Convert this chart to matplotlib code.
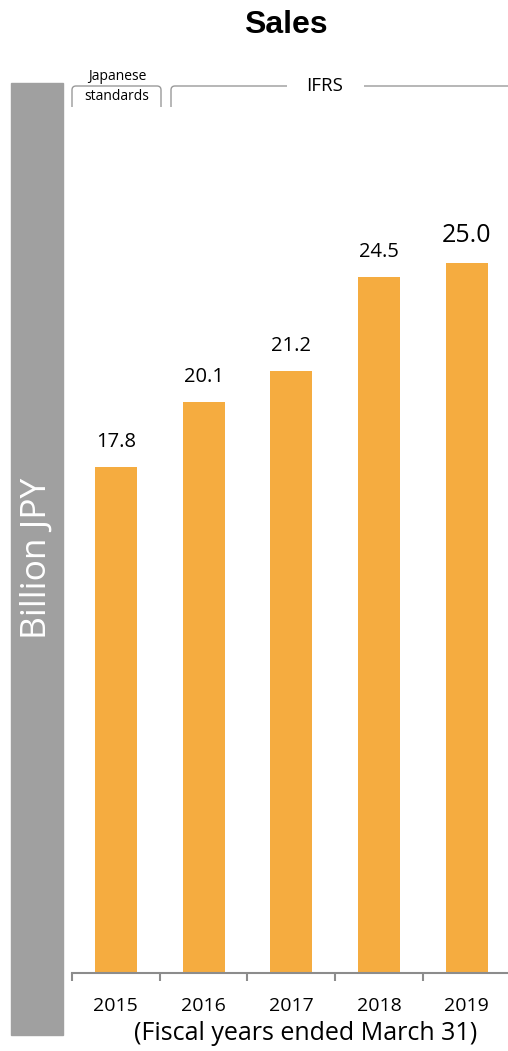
import matplotlib.pyplot as plt
from matplotlib.patches import Rectangle, PathPatch
from matplotlib.path import Path

years = ["2015", "2016", "2017", "2018", "2019"]
sales = [17.8, 20.1, 21.2, 24.5, 25.0]

W, H = 508, 1051
BAR = "#F5AC40"
GRAY = "#A0A0A0"
LINE = "#8C8C8C"
FONT = "Open Sans"


def fx(px):
    return px / W


def fy(py):
    return 1 - py / H


def bracket(fig, x0, x1, y_top, y_bot, gap=None):
    r = 4
    verts = [(x0, y_bot), (x0, y_top + r), (x0, y_top), (x0 + r, y_top)]
    codes = [Path.MOVETO, Path.LINETO, Path.CURVE3, Path.CURVE3]
    if gap:
        verts += [(gap[0], y_top), (gap[1], y_top), (x1, y_top)]
        codes += [Path.LINETO, Path.MOVETO, Path.LINETO]
    else:
        verts += [(x1 - r, y_top), (x1, y_top), (x1, y_top + r), (x1, y_bot)]
        codes += [Path.LINETO, Path.CURVE3, Path.CURVE3, Path.LINETO]
    verts = [(fx(a), fy(b)) for a, b in verts]
    fig.patches.append(PathPatch(Path(verts, codes), transform=fig.transFigure,
                                 fill=False, edgecolor="#9A9A9A", lw=1.0))


fig = plt.figure(figsize=(W / 100, H / 100), dpi=100)
ax = fig.add_axes([fx(72), fy(973), fx(436), 873 / H])

x = list(range(len(years)))
ax.bar(x, sales, width=0.48, color=BAR)
ax.set_xlim(-0.5, 4.47)
ax.set_ylim(0, 873 / 28.4)

for i, v in enumerate(sales):
    last = i == len(sales) - 1
    ax.annotate(f"{v:.1f}", (i, v), xytext=(0, 11), textcoords="offset points",
                ha="center", va="bottom", fontsize=18 if last else 14.5,
                family=FONT, fontweight="medium" if last else "normal",
                color="black")

for s in ["top", "right", "left"]:
    ax.spines[s].set_visible(False)
ax.spines["bottom"].set_color(LINE)
ax.spines["bottom"].set_linewidth(1.5)
ax.set_yticks([])
ax.set_xticks(x)
ax.set_xticklabels(years, family=FONT, fontsize=14)
ax.tick_params(axis="x", which="major", length=0, pad=17)
ax.set_xticks([i - 0.5 for i in x], minor=True)
ax.tick_params(axis="x", which="minor", length=6, width=1.5, color=LINE)
ax.set_xlabel("(Fiscal years ended March 31)", family=FONT, fontsize=18)
ax.xaxis.label.set_va("center")
ax.xaxis.set_label_coords((306 - 72) / 436, -(1034 - 973) / 873)

fig.patches.append(Rectangle((fx(11), fy(1035)), fx(52), (1035 - 83) / H,
                             transform=fig.transFigure, color=GRAY))
fig.text(fx(37), fy(558), "Billion JPY", rotation=90, ha="center", va="center",
         color="white", fontsize=25.5, family=FONT, fontweight="normal")

fig.text(fx(286), fy(25), "Sales", ha="center", va="center", fontsize=23,
         fontweight="bold", family="Liberation Sans")

bracket(fig, 72, 161, 86, 107)
bracket(fig, 171, 508, 86, 107, gap=(287, 364))
fig.text(fx(117), fy(76), "Japanese", ha="center", va="center", fontsize=10,
         family=FONT)
fig.text(fx(117), fy(97), "standards", ha="center", va="center", fontsize=10,
         family=FONT)
fig.text(fx(325), fy(86), "IFRS", ha="center", va="center", fontsize=13.5,
         family=FONT)

fig.savefig("out.png", dpi=100)
